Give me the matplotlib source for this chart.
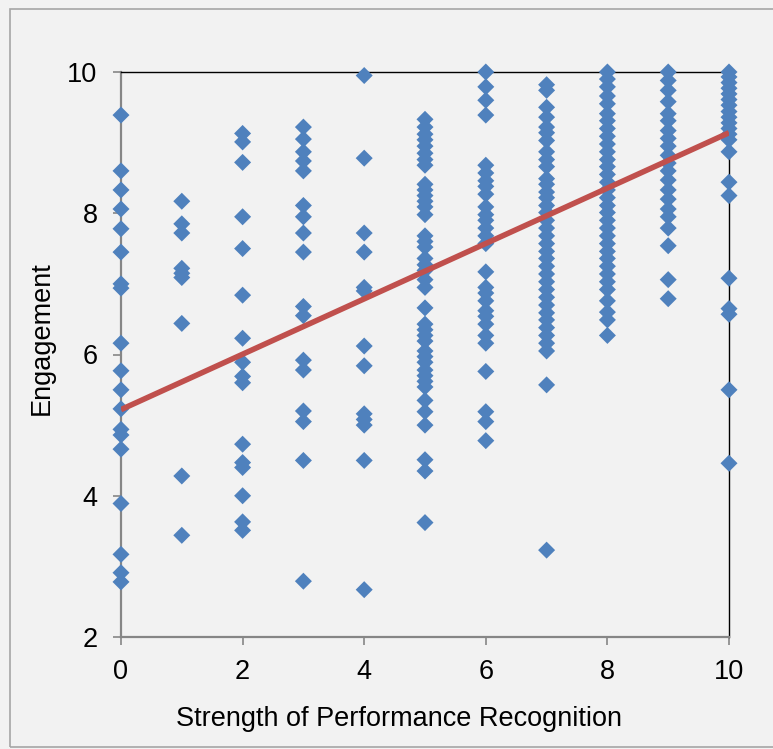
import numpy as np
import matplotlib.pyplot as plt
from matplotlib.patches import Rectangle

plt.rcParams['font.family'] = ['Liberation Sans', 'DejaVu Sans']

# engagement scores, one list per recognition level
eng_0 = [9.39, 8.60, 8.33, 8.06, 7.78, 7.45, 7.00, 6.94, 6.16, 5.77, 5.50, 5.23,
         4.94, 4.86, 4.66, 3.89, 3.17, 2.91, 2.78]
eng_1 = [8.17, 7.85, 7.72, 7.22, 7.15, 7.09, 6.44, 4.28, 3.44]
eng_2 = [9.13, 9.01, 8.72, 7.95, 7.50, 6.84, 6.23, 5.89, 5.69, 5.60, 4.73, 4.47,
         4.40, 4.00, 3.63, 3.51]
eng_3 = [9.22, 9.05, 8.87, 8.74, 8.60, 8.11, 7.95, 7.72, 7.45, 6.68, 6.55, 5.92,
         5.78, 5.20, 5.05, 4.50, 2.79]
eng_4 = [9.95, 8.78, 7.72, 7.45, 6.95, 6.90, 6.12, 5.84, 5.16, 5.08, 5.00, 4.50, 2.67]
eng_5 = [9.33, 9.22, 9.12, 9.04, 8.95, 8.85, 8.76, 8.68, 8.41, 8.33, 8.25, 8.17,
         8.09, 7.98, 7.68, 7.60, 7.52, 7.36, 7.27, 7.19, 7.06, 6.95, 6.66, 6.43,
         6.35, 6.27, 6.19, 6.05, 5.97, 5.89, 5.78, 5.70, 5.62, 5.54, 5.35, 5.19,
         5.00, 4.51, 4.35, 3.62]
eng_6 = [10.0, 9.79, 9.60, 9.39, 8.68, 8.57, 8.46, 8.38, 8.27, 8.09, 7.98, 7.90,
         7.79, 7.68, 7.57, 7.17, 6.95, 6.87, 6.76, 6.62, 6.54, 6.43, 6.27, 6.16,
         5.76, 5.19, 5.05, 4.78]
eng_7 = [9.82, 9.74, 9.50, 9.36, 9.22, 9.14, 9.03, 8.87, 8.76, 8.66, 8.49, 8.41,
         8.30, 8.22, 8.11, 8.01, 7.90, 7.79, 7.68, 7.57, 7.46, 7.36, 7.25, 7.14,
         7.03, 6.92, 6.81, 6.70, 6.59, 6.49, 6.38, 6.27, 6.16, 6.05, 5.57, 3.23]
eng_8 = [10.0, 9.90, 9.79, 9.66, 9.55, 9.41, 9.31, 9.20, 9.09, 8.98, 8.87, 8.76,
         8.66, 8.55, 8.44, 8.33, 8.22, 8.11, 8.01, 7.90, 7.79, 7.68, 7.57, 7.46,
         7.36, 7.25, 7.14, 7.03, 6.92, 6.76, 6.60, 6.49, 6.27]
eng_9 = [10.0, 9.88, 9.74, 9.58, 9.41, 9.31, 9.17, 9.06, 8.95, 8.82, 8.71, 8.60,
         8.47, 8.33, 8.20, 8.06, 7.95, 7.79, 7.54, 7.06, 6.79]
eng_10 = [10.0, 9.93, 9.85, 9.77, 9.69, 9.61, 9.53, 9.44, 9.36, 9.28, 9.20, 9.12,
          9.04, 8.87, 8.44, 8.25, 7.08, 6.65, 6.57, 5.50, 4.46]
columns = [eng_0, eng_1, eng_2, eng_3, eng_4, eng_5, eng_6, eng_7, eng_8, eng_9, eng_10]

# linear trend as drawn in the original (ends at x=0 and x=10)
trend_x = [0, 10]
trend_y = [5.22, 9.14]

x_ticks = [0, 2, 4, 6, 8, 10]
y_ticks = [2, 4, 6, 8, 10]

xs = np.concatenate([[lvl] * len(c) for lvl, c in enumerate(columns)])
ys = np.concatenate(columns)

bg = '#F2F2F2'
fig = plt.figure(figsize=(7.73, 7.49), dpi=100, facecolor=bg)
# outer chart border
fig.patches.append(Rectangle((10 / 773, 2 / 749), 1.0, 738 / 749, transform=fig.transFigure,
                             fill=False, edgecolor='#A6A6A6', linewidth=1.2))

ax = fig.add_axes([121 / 773, 1 - 637 / 749, 608 / 773, 565 / 749])
ax.set_facecolor(bg)

ax.scatter(xs, ys, marker='D', s=75, color='#4F81BD', edgecolors='none', zorder=3,
           clip_on=False)
ax.plot(trend_x, trend_y, color='#C0504D', linewidth=4, solid_capstyle='butt', zorder=4)

ax.set_xlim(0, 10)
ax.set_ylim(2, 10)
ax.set_xticks(x_ticks)
ax.set_yticks(y_ticks)

for side in ['top', 'right']:
    ax.spines[side].set_color('black')
    ax.spines[side].set_linewidth(1.0)
for side in ['left', 'bottom']:
    ax.spines[side].set_color('#868686')
    ax.spines[side].set_linewidth(1.6)

ax.tick_params(axis='both', direction='out', length=6, width=1.2, color='#868686',
               labelsize=19.5, labelcolor='black')
ax.tick_params(axis='y', pad=11)
ax.tick_params(axis='x', pad=10)

ax.set_xlabel('Strength of Performance Recognition', fontsize=19.5, labelpad=15)
ax.set_ylabel('Engagement', fontsize=19.5, labelpad=9)
# Excel centres the titles a little off the plot centre
ax.xaxis.label.set_x(0.457)
ax.yaxis.label.set_y(0.529)

fig.savefig('out.png', dpi=100, facecolor=bg)
